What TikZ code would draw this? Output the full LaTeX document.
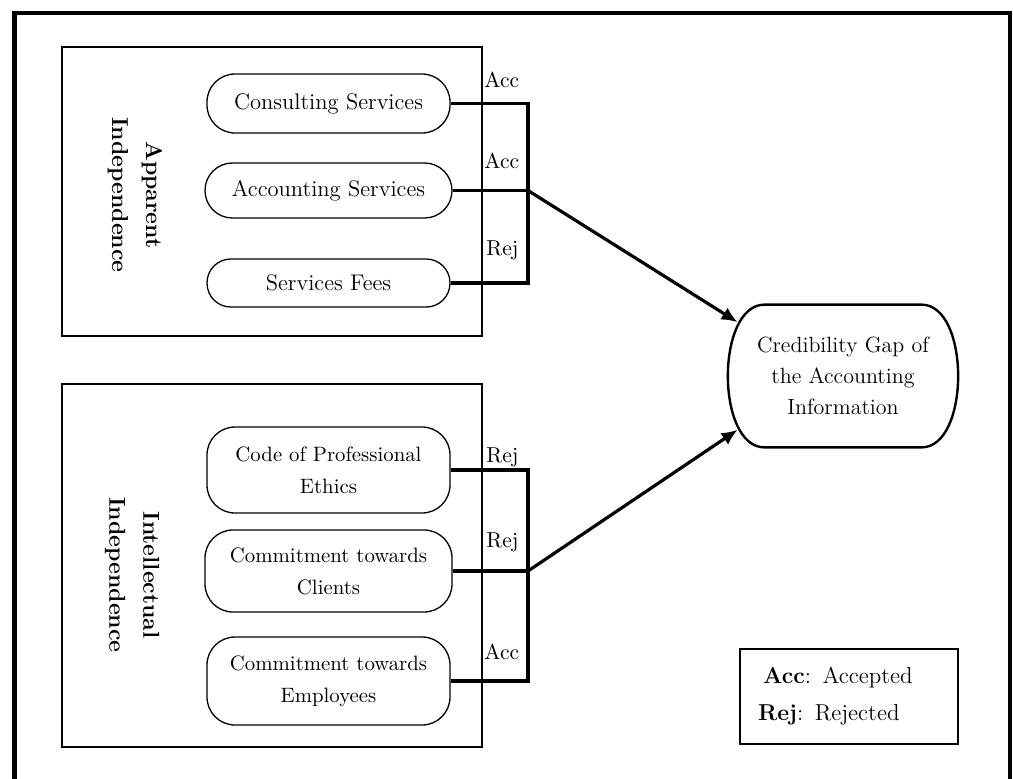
\documentclass[tikz,border=0pt]{standalone}
\usetikzlibrary{arrows.meta}
\tikzset{
  voce/.style={draw, line width=0.65pt, rounded corners=14pt, minimum width=121.5pt,
    inner sep=0pt, align=center},
  riquadro/.style={draw, line width=0.75pt},
  gruppo/.style={rotate=-90, align=center, font=\bfseries\fontsize{11.5}{17}\selectfont},
  collega/.style={line width=1.6pt},
  freccia/.style={line width=1.6pt, -{Latex[length=8pt,width=7pt]}},
  etichetta/.style={anchor=west, inner sep=1pt, font=\fontsize{10.8}{12}\selectfont}
}
\begin{document}
\begin{tikzpicture}[x=0.5pt,y=-0.5pt]
  \useasboundingbox (0,0) rectangle (1013,778);
  \clip (0,0) rectangle (1013,778);
  % Cornice esterna
  \draw[line width=2.25pt] (14.5,800) -- (14.5,13) -- (1010,13) -- (1010,800);
  % Indipendenza apparente
  \draw[riquadro] (62,47) rectangle (482,336);
  \node[gruppo] (app) at (135,195) {Apparent\\Independence};
  \node[voce, minimum height=29.5pt, font=\fontsize{11.3}{16}\selectfont] (cons) at (328.5,103.5) {Consulting Services};
  \node[voce, minimum height=27.5pt, rounded corners=13.7pt, minimum width=123.5pt, font=\fontsize{11.3}{16}\selectfont] (acct) at (328.5,190.5) {Accounting Services};
  \node[voce, minimum height=24pt, rounded corners=11.9pt, font=\fontsize{11.3}{16}\selectfont] (fees) at (328.5,283) {Services Fees};
  \coordinate (jA) at (528,0 |- acct.east);
  \draw[collega] (cons.east) -| (jA) |- (fees.east);
  \draw[collega] (acct.east) -- (jA);
  \node[etichetta] (lA1) at (482,80) {Acc};
  \node[etichetta] (lA2) at (482,161) {Acc};
  \node[etichetta] (lA3) at (484,250) {Rej};
  % Indipendenza intellettuale
  \draw[riquadro] (62,384) rectangle (482,747);
  \node[gruppo] (int) at (132,575) {Intellectual\\Independence};
  \node[voce, minimum height=43pt, font=\fontsize{10.4}{16}\selectfont] (eth) at (328.5,470) {Code of Professional\\Ethics};
  \node[voce, minimum height=41pt, minimum width=123.5pt, font=\fontsize{10.4}{16}\selectfont] (cli) at (328.5,571) {Commitment towards\\Clients};
  \node[voce, minimum height=44pt, font=\fontsize{10.4}{16}\selectfont] (emp) at (328.5,681) {Commitment towards\\Employees};
  \coordinate (jB) at (528,0 |- cli.east);
  \draw[collega] (eth.east) -| (jB) |- (emp.east);
  \draw[collega] (cli.east) -- (jB);
  \node[etichetta] (lB1) at (484,457) {Rej};
  \node[etichetta] (lB2) at (484,542) {Rej};
  \node[etichetta] (lB3) at (482,652) {Acc};
  % Variabile dipendente
  \node[minimum width=115pt, minimum height=71pt, inner sep=0pt, align=center,
    font=\fontsize{11}{15.5}\selectfont] (cred) at (843,376)
    {Credibility Gap of\\the Accounting\\Information};
  \draw[line width=1.2pt] ([xshift=18.5pt]cred.north west) -- ([xshift=-18.5pt]cred.north east)
    .. controls ([xshift=6pt]cred.north east) and ([xshift=6pt]cred.south east) .. ([xshift=-18.5pt]cred.south east)
    -- ([xshift=18.5pt]cred.south west)
    .. controls ([xshift=-6pt]cred.south west) and ([xshift=-6pt]cred.north west) .. ([xshift=18.5pt]cred.north west)
    -- cycle;
  \draw[freccia] (jA) -- ([xshift=5pt]cred.155);
  \draw[freccia] (jB) -- ([xshift=5pt]cred.205);
  % Legenda
  \node[draw, line width=0.75pt, minimum width=109pt, minimum height=47.5pt,
    inner sep=9pt, text width=91pt, align=left, font=\fontsize{11.5}{18.5}\selectfont] (leg) at (849,696.5)
    {\hspace{2.5pt}\textbf{Acc}: Accepted\\\textbf{Rej}: Rejected};
\end{tikzpicture}
\end{document}
